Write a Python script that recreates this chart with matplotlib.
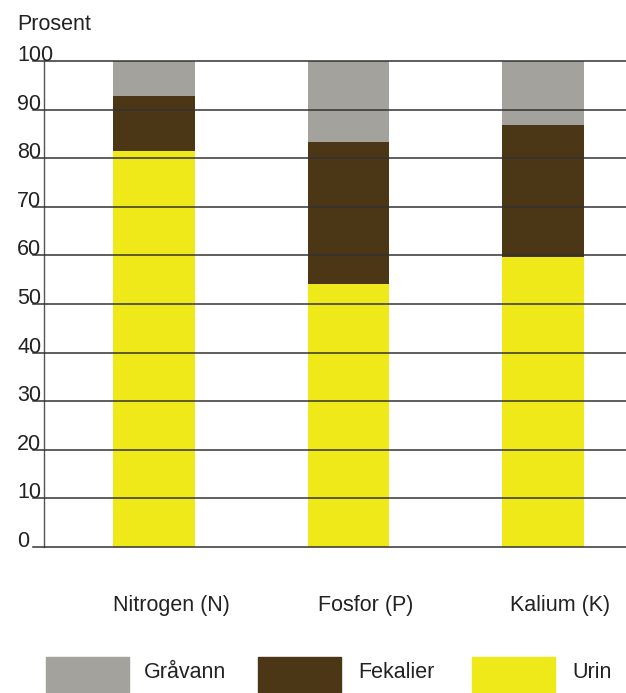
import matplotlib.pyplot as plt
import matplotlib.transforms as mtransforms
from matplotlib.patches import Rectangle
import numpy as np

plt.rcParams['font.family'] = ['Liberation Sans', 'DejaVu Sans']

categories = ['Nitrogen (N)', 'Fosfor (P)', 'Kalium (K)']
urin = [81.5, 54.1, 59.7]
fekalier = [11.3, 29.2, 27.1]
graavann = [7.2, 16.7, 13.2]
series_names = ['Gråvann', 'Fekalier', 'Urin']
yticks = [0, 10, 20, 30, 40, 50, 60, 70, 80, 90, 100]

col_gra = '#a4a29d'
col_fek = '#4b3616'
col_urin = '#f0e91a'
line_col = '#333333'
fs = 15.5

W, H = 626, 693
fig = plt.figure(figsize=(W / 100, H / 100), dpi=100)
ax = fig.add_axes([44 / W, (H - 547) / H, (W - 44) / W, 486 / H])

x = np.arange(len(categories))
urin = np.array(urin)
fekalier = np.array(fekalier)
graavann = np.array(graavann)
bw = 0.42
ax.bar(x, urin, width=bw, color=col_urin, zorder=2)
ax.bar(x, fekalier, width=bw, bottom=urin, color=col_fek, zorder=2)
ax.bar(x, graavann, width=bw, bottom=urin + fekalier, color=col_gra, zorder=2)

ax.set_xlim(-0.566, 2.427)
ax.set_ylim(0, 100)

# horizontal lines, sticking out a bit to the left of the axis
for t in yticks:
    ax.axhline(t, xmin=-11 / (W - 44), xmax=1, color=line_col, lw=1.1,
               clip_on=False, zorder=3)

for s in ['top', 'right', 'bottom']:
    ax.spines[s].set_visible(False)
ax.spines['left'].set_color('#555555')
ax.spines['left'].set_linewidth(1.0)
ax.set_xticks([])
ax.set_yticks([])

# y labels, left aligned, sitting on the lines
trans = mtransforms.blended_transform_factory(fig.transFigure, ax.transData)
for t in yticks:
    ax.text(17 / W, t, str(t), transform=trans, ha='left', va='baseline',
            fontsize=fs, color='#222222', clip_on=False)

fig.text(17 / W, 1 - 30 / H, 'Prosent', ha='left', va='baseline',
         fontsize=fs, color='#222222')

# category labels below the bars
offs = mtransforms.offset_copy(ax.transData, fig=fig, x=17, y=0, units='dots')
trans_c = mtransforms.blended_transform_factory(offs, fig.transFigure)
for i, c in enumerate(categories):
    ax.text(x[i], 1 - 606 / H, c, transform=trans_c, ha='center', va='center',
            fontsize=fs, color='#222222', clip_on=False)

# legend
leg_cols = [col_gra, col_fek, col_urin]
box_x = [46, 258, 472]
txt_x = [144, 358, 572]
for name, c, bx, tx in zip(series_names, leg_cols, box_x, txt_x):
    fig.patches.append(Rectangle((bx / W, 1 - 692 / H), 83 / W, 35 / H,
                                 transform=fig.transFigure, color=c))
    fig.text(tx / W, 1 - 672 / H, name, ha='left', va='center',
             fontsize=fs, color='#222222')

fig.savefig('out.png', dpi=100)
